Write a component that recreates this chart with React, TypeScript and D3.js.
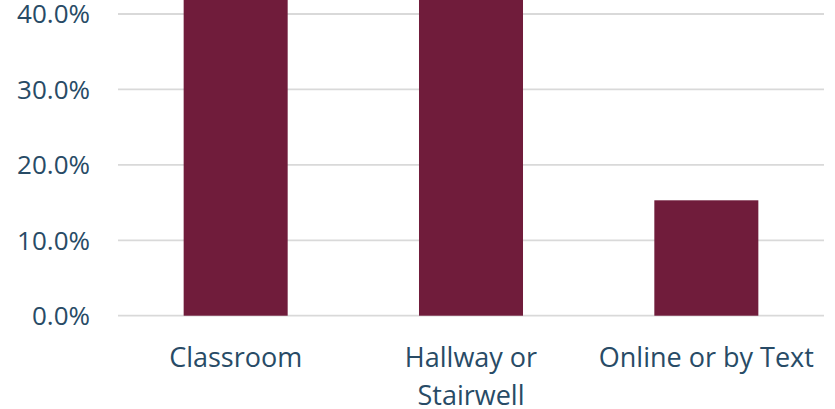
import React from "react";
import * as d3 from "d3";

const categories: string[][] = [["Classroom"], ["Hallway or", "Stairwell"], ["Online or by Text"]];
const values: number[] = [0.472, 0.445, 0.153];
const yTicks: number[] = [0, 0.1, 0.2, 0.3, 0.4];

const W = 835;
const H = 409;

export default function App() {
  const x = d3
    .scaleBand<number>()
    .domain(categories.map((_, i) => i))
    .range([118, 824])
    .paddingInner(0.558)
    .paddingOuter(0.279);
  const y = d3.scaleLinear().domain([0, 0.4]).range([315.7, 14]);
  const fmt = d3.format(".1%");
  const textColor = "#284B66";
  const font = "'Open Sans', sans-serif";

  return (
    <svg
      width={W}
      height={H}
      viewBox={`0 0 ${W} ${H}`}
      style={{ position: "absolute", left: 0, top: 0, background: "#fff" }}
    >
      <rect x={0} y={0} width={W} height={H} fill="#fff" />
      {yTicks.map((t) => (
        <g key={t}>
          <line x1={118} x2={824} y1={y(t)} y2={y(t)} stroke="#D9D9D9" strokeWidth={1.8} />
          <text
            x={90}
            y={y(t)}
            dy="0.36em"
            textAnchor="end"
            fontFamily={font}
            fontSize={26}
            fill={textColor}
          >
            {fmt(t)}
          </text>
        </g>
      ))}
      {values.map((v, i) => (
        <rect
          key={i}
          x={x(i)}
          y={y(v)}
          width={x.bandwidth()}
          height={y(0) - y(v)}
          fill="#701C3B"
        />
      ))}
      {categories.map((lines, i) => (
        <text
          key={i}
          x={(x(i) as number) + x.bandwidth() / 2}
          y={366.7}
          textAnchor="middle"
          fontFamily={font}
          fontSize={27}
          fill={textColor}
        >
          {lines.map((l, j) => (
            <tspan key={j} x={(x(i) as number) + x.bandwidth() / 2} dy={j === 0 ? 0 : 38.5}>
              {l}
            </tspan>
          ))}
        </text>
      ))}
    </svg>
  );
}
